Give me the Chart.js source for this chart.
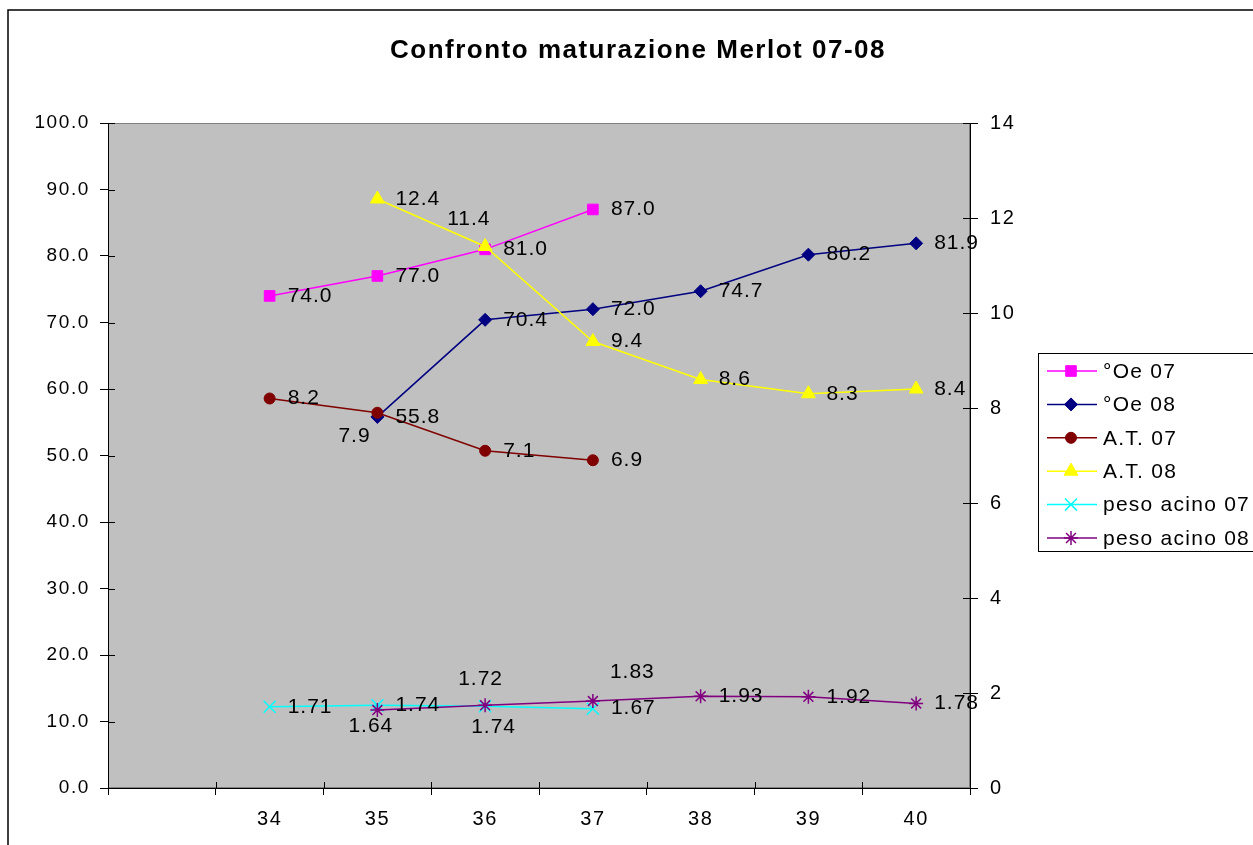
<!DOCTYPE html>
<html>
<head>
<meta charset="utf-8">
<script src="https://cdn.jsdelivr.net/npm/chart.js@4.4.1/dist/chart.umd.min.js"></script>
<style>
html,body{margin:0;padding:0;background:#fff;overflow:hidden}
#wrap{width:1253px;height:845px;position:relative}
</style>
</head>
<body>
<div id="wrap"><canvas id="c" width="1253" height="845"></canvas></div>
<script>
// ---- data ----
const chartTitle = 'Confronto maturazione Merlot 07-08';
const categories = ['', '34', '35', '36', '37', '38', '39', '40'];
const seriesNames = ['°Oe 07', '°Oe 08', 'A.T. 07', 'A.T. 08', 'peso acino 07', 'peso acino 08'];
const oe07   = [null, 74.0, 77.0, 81.0, 87.0, null, null, null];
const oe08   = [null, null, 55.8, 70.4, 72.0, 74.7, 80.2, 81.9];
const at07   = [null, 8.2, 7.9, 7.1, 6.9, null, null, null];
const at08   = [null, null, 12.4, 11.4, 9.4, 8.6, 8.3, 8.4];
const peso07 = [null, 1.71, 1.74, 1.72, 1.67, null, null, null];
const peso08 = [null, null, 1.64, 1.74, 1.83, 1.93, 1.92, 1.78];
const leftTickValues  = [0, 10, 20, 30, 40, 50, 60, 70, 80, 90, 100];
const rightTickValues = [0, 2, 4, 6, 8, 10, 12, 14];

// ---- styles ----
const seriesData = [oe07, oe08, at07, at08, peso07, peso08];
const seriesAxis = ['y', 'y', 'y1', 'y1', 'y1', 'y1'];
const seriesDecimals = [1, 1, 1, 1, 2, 2];
const seriesColors = ['#FF00FF', '#000080', '#800000', '#FFFF00', '#00FFFF', '#800080'];
const seriesMarkers = ['rect', 'rectRot', 'circle', 'triangle', 'crossRot', 'star'];
const seriesRadius = [7.5, 6.5, 5.5, 8, 8.5, 7];
// label offsets (dx, dy from point) where not default
const defaultLabelOffset = [18, 0];
const labelOffsets = {
  '2-2': [-39, 23],
  '3-3': [-38, -27],
  '4-3': [-27, -27],
  '5-2': [-29, 16],
  '5-3': [-14, 22],
  '5-4': [17, -29]
};
const FONT = "'Liberation Sans', Arial, Helvetica, sans-serif";
Chart.defaults.font.family = FONT;

const datasets = seriesData.map((d, i) => ({
  label: seriesNames[i],
  data: d,
  yAxisID: seriesAxis[i],
  borderColor: seriesColors[i],
  backgroundColor: seriesColors[i],
  pointBackgroundColor: seriesColors[i],
  pointBorderColor: seriesColors[i],
  pointStyle: seriesMarkers[i],
  pointRadius: seriesRadius[i],
  pointBorderWidth: (seriesMarkers[i] === 'crossRot' || seriesMarkers[i] === 'star') ? 1.5 : 1,
  borderWidth: 1.5,
  tension: 0,
  spanGaps: false,
  order: seriesData.length - i
}));

const TICK_SPACING = '1.6px';
function setSpacing(c, v) { try { c.ctx.letterSpacing = v; } catch (e) {} }

const decor = {
  id: 'decor',
  beforeUpdate(c) { setSpacing(c, TICK_SPACING); },
  beforeLayout(c) { setSpacing(c, TICK_SPACING); },
  beforeDraw(c) {
    const ctx = c.ctx, a = c.chartArea;
    setSpacing(c, TICK_SPACING);
    ctx.save();
    ctx.fillStyle = '#fff';
    ctx.fillRect(0, 0, c.width, c.height);
    // outer chart border
    ctx.strokeStyle = '#000';
    ctx.lineWidth = 1.5;
    ctx.strokeRect(8, 10, 1300, 900);
    // plot area
    ctx.fillStyle = '#C0C0C0';
    ctx.fillRect(a.left, a.top, a.right - a.left, a.bottom - a.top);
    ctx.strokeStyle = '#808080';
    ctx.lineWidth = 1;
    ctx.strokeRect(a.left + 0.5, a.top + 0.5, a.right - a.left - 1, a.bottom - a.top - 1);
    ctx.restore();
    setSpacing(c, TICK_SPACING);
  },
  afterDatasetsDraw(c) {
    const ctx = c.ctx;
    ctx.save();
    ctx.font = '21px ' + FONT;
    ctx.letterSpacing = '1px';
    ctx.fillStyle = '#000';
    ctx.textAlign = 'left';
    ctx.textBaseline = 'middle';
    c.data.datasets.forEach((ds, i) => {
      const meta = c.getDatasetMeta(i);
      ds.data.forEach((v, j) => {
        if (v === null) return;
        const p = meta.data[j];
        const off = labelOffsets[i + '-' + j] || defaultLabelOffset;
        ctx.fillText(v.toFixed(seriesDecimals[i]), p.x + off[0], p.y + off[1]);
      });
    });
    ctx.restore();
  },
  afterDraw(c) {
    const ctx = c.ctx, a = c.chartArea;
    ctx.save();
    ctx.strokeStyle = '#000';
    ctx.lineWidth = 1;
    // inner tick parts
    const ys = c.scales.y, ys1 = c.scales.y1;
    ys.ticks.forEach(t => {
      const y = Math.round(ys.getPixelForValue(t.value)) + 0.5;
      ctx.beginPath(); ctx.moveTo(a.left, y); ctx.lineTo(a.left + 7, y); ctx.stroke();
    });
    ys1.ticks.forEach(t => {
      const y = Math.round(ys1.getPixelForValue(t.value)) + 0.5;
      ctx.beginPath(); ctx.moveTo(a.right - 7, y); ctx.lineTo(a.right, y); ctx.stroke();
    });
    const n = categories.length;
    const step = (a.right - a.left) / n;
    for (let k = 0; k <= n; k++) {
      const x = Math.round(a.left + k * step) + 0.5;
      ctx.beginPath(); ctx.moveTo(x, a.bottom - 6); ctx.lineTo(x, a.bottom); ctx.stroke();
    }
    // title
    ctx.font = 'bold 26px ' + FONT;
    ctx.letterSpacing = '1.5px';
    ctx.fillStyle = '#000';
    ctx.textAlign = 'center';
    ctx.textBaseline = 'middle';
    ctx.fillText(chartTitle, 638, 51);
    // legend
    ctx.letterSpacing = '1.25px';
    ctx.lineWidth = 1;
    ctx.strokeStyle = '#000';
    ctx.strokeRect(1038.5, 353.5, 240, 198);
    ctx.font = '21px ' + FONT;
    ctx.textAlign = 'left';
    ctx.textBaseline = 'middle';
    c.data.datasets.forEach((ds, i) => {
      const y = 371 + i * 33.4;
      ctx.strokeStyle = seriesColors[i];
      ctx.lineWidth = 1.5;
      ctx.beginPath(); ctx.moveTo(1047, y); ctx.lineTo(1097, y); ctx.stroke();
      ctx.fillStyle = seriesColors[i];
      ctx.lineWidth = ds.pointBorderWidth;
      Chart.helpers.drawPoint(ctx, {pointStyle: seriesMarkers[i], radius: seriesRadius[i], rotation: 0, borderWidth: ds.pointBorderWidth}, 1071, y);
      ctx.fillStyle = '#000';
      ctx.fillText(ds.label, 1103, y + 1);
    });
    ctx.restore();
  }
};

const axisCommon = {
  grid: { drawOnChartArea: false, color: '#000', tickColor: '#000', tickLength: 8, lineWidth: 1 },
  border: { color: '#000', width: 1 },
};

new Chart(document.getElementById('c'), {
  type: 'line',
  data: { labels: categories, datasets: datasets },
  options: {
    responsive: false,
    animation: false,
    devicePixelRatio: 1,
    layout: { padding: { left: 0, right: 223, top: 123, bottom: 0 } },
    plugins: { legend: { display: false }, title: { display: false }, tooltip: { enabled: false } },
    scales: {
      x: {
        type: 'category',
        offset: true,
        grid: { offset: true, drawOnChartArea: false, color: '#000', tickColor: '#000', tickLength: 7 },
        border: { color: '#000', width: 1 },
        ticks: { color: '#000', font: { size: 20 }, padding: 12, maxRotation: 0, autoSkip: false },
        afterFit(s) { s.height = 57; }
      },
      y: Object.assign({}, axisCommon, {
        position: 'left', min: 0, max: 100,
        afterBuildTicks(s) { s.ticks = leftTickValues.map(v => ({ value: v })); },
        ticks: { color: '#000', font: { size: 19 }, padding: 10, callback: v => Number(v).toFixed(1) },
        afterFit(s) { s.width = 108; }
      }),
      y1: Object.assign({}, axisCommon, {
        position: 'right', min: 0, max: 14,
        afterBuildTicks(s) { s.ticks = rightTickValues.map(v => ({ value: v })); },
        ticks: { color: '#000', font: { size: 20 }, padding: 12, callback: v => String(v) },
        afterFit(s) { s.width = 60; }
      })
    }
  },
  plugins: [decor]
});
</script>
</body>
</html>
